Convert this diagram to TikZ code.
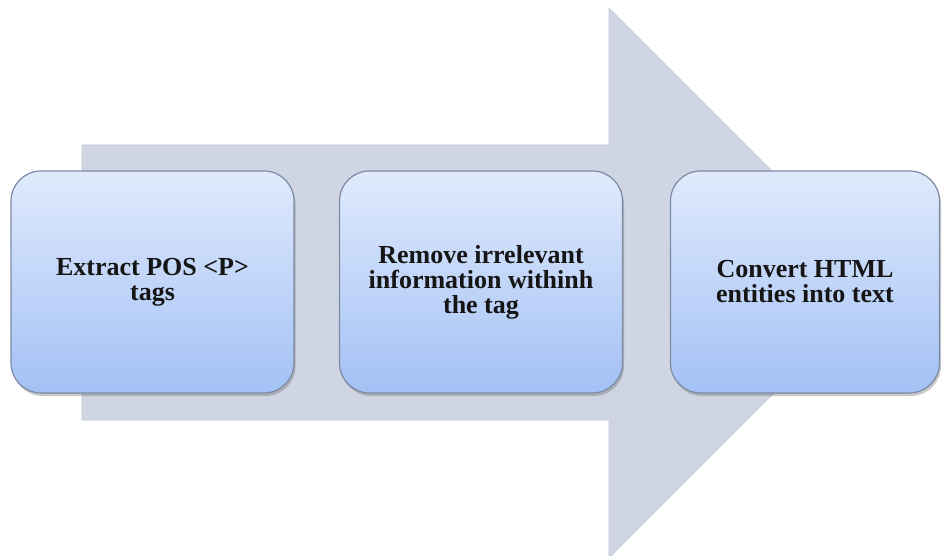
\documentclass[tikz,border=0pt]{standalone}
\usepackage{fontspec}
\setmainfont{Liberation Serif}
\usetikzlibrary{shadows}
\definecolor{arrowfill}{HTML}{CFD5E2}
\definecolor{arrowedge}{HTML}{C2C9D8}
\definecolor{boxtop}{HTML}{E0EAFC}
\definecolor{boxbot}{HTML}{A3C1F5}
\definecolor{boxedge}{HTML}{7D8AA3}
\definecolor{txt}{HTML}{151515}
\tikzset{
  stepbox/.style={draw=boxedge, line width=1.2pt, rounded corners=30pt,
    top color=boxtop, bottom color=boxbot,
    drop shadow={opacity=0.35, shadow xshift=1.5pt, shadow yshift=-3pt, fill=black!60},
    align=center, text=txt, font=\fontsize{26}{25}\selectfont\bfseries,
    inner sep=0pt},
  bigarrow/.style={fill=arrowfill, draw=arrowedge, line width=0.6pt}
}
\begin{document}
\begin{tikzpicture}[x=1pt,y=-1pt]
\useasboundingbox (0,0) rectangle (942,556);
\fill[white] (0,0) rectangle (942,556);
\draw[bigarrow] (82,145) -- (609,145) -- (609,8) -- (884,283) -- (609,558) -- (609,420) -- (82,420) -- cycle;
\node[stepbox, minimum width=283pt, minimum height=222pt] (b1) at (152.5,282) {Extract POS <P>\\tags};
\node[stepbox, minimum width=283pt, minimum height=222pt] (b2) at (481,282) {Remove irrelevant\\information withinh\\the tag};
\node[stepbox, minimum width=269pt, minimum height=222pt] (b3) at (805,282) {Convert HTML\\entities into text};
\end{tikzpicture}
\end{document}
